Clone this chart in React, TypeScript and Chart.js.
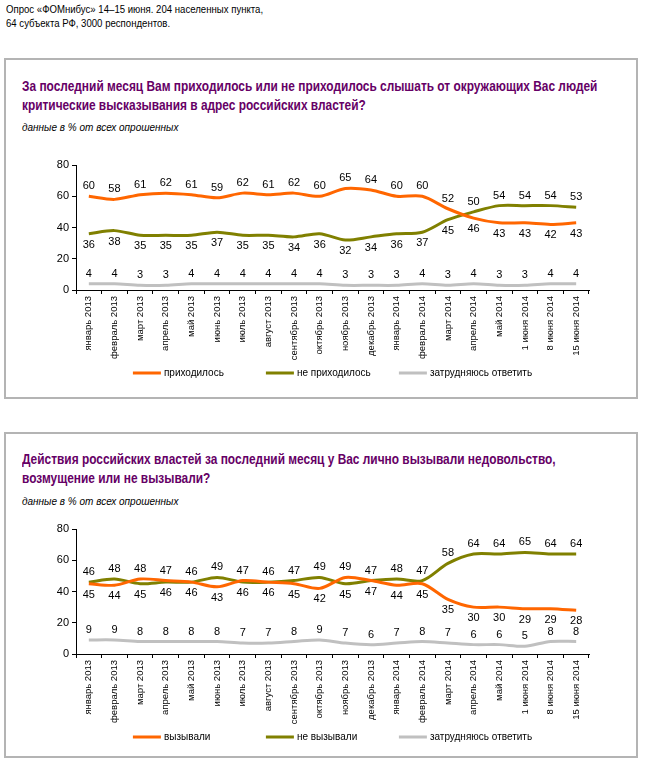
import React, { useEffect, useRef } from "react";
import { Chart, registerables } from "chart.js";

Chart.register(...registerables);

const categories = [
  "январь 2013", "февраль 2013", "март 2013", "апрель 2013", "май 2013", "июнь 2013",
  "июль 2013", "август 2013", "сентябрь 2013", "октябрь 2013", "ноябрь 2013", "декабрь 2013",
  "январь 2014", "февраль 2014", "март 2014", "апрель 2014", "май 2014",
  "1 июня 2014", "8 июня 2014", "15 июня 2014",
];

// Chart 1: heard criticism
const heardYes = [60, 58, 61, 62, 61, 59, 62, 61, 62, 60, 65, 64, 60, 60, 52, 46, 43, 43, 42, 43];
const heardNo = [36, 38, 35, 35, 35, 37, 35, 35, 34, 36, 32, 34, 36, 37, 45, 50, 54, 54, 54, 53];
const heardHard = [4, 4, 3, 3, 4, 4, 4, 4, 4, 4, 3, 3, 3, 4, 3, 4, 3, 3, 4, 4];

// Chart 2: actions caused discontent
const causedYes = [45, 44, 48, 47, 46, 43, 47, 46, 45, 42, 49, 47, 44, 45, 35, 30, 30, 29, 29, 28];
const causedNo = [46, 48, 45, 46, 46, 49, 46, 46, 47, 49, 45, 47, 48, 47, 58, 64, 64, 65, 64, 64];
const causedHard = [9, 9, 8, 8, 8, 8, 7, 7, 8, 9, 7, 6, 7, 8, 7, 6, 6, 5, 8, 8];

const yTicks = [0, 20, 40, 60, 80];

const names1 = ["приходилось", "не приходилось", "затрудняюсь ответить"];
const names2 = ["вызывали", "не вызывали", "затрудняюсь ответить"];
const colors = ["#FF6600", "#808000", "#C0C0C0"];

const FONT = "'Liberation Sans', Arial, sans-serif";

const labelPlugin = {
  id: "valueLabels",
  afterDatasetsDraw(chart: any) {
    const ctx = chart.ctx;
    ctx.save();
    ctx.font = `11px ${FONT}`;
    ctx.fillStyle = "#000";
    ctx.textAlign = "center";
    ctx.textBaseline = "middle";
    chart.data.datasets.forEach((ds: any, i: number) => {
      const meta = chart.getDatasetMeta(i);
      meta.data.forEach((pt: any, j: number) => {
        const v = ds.data[j];
        let above = true;
        if (i === 0 || i === 1) {
          const other = chart.data.datasets[1 - i].data[j];
          if (v > other) above = true;
          else if (v < other) above = false;
          else above = i === 1;
        }
        const y = above ? pt.y - 10 : pt.y + 11;
        ctx.fillText(String(v), pt.x, y);
      });
    });
    ctx.restore();
  },
};

// Legend drawn on the canvas below the rotated category labels
const legendPlugin = {
  id: "lineLegend",
  afterDraw(chart: any) {
    const ctx = chart.ctx;
    const { left, right, bottom } = chart.chartArea;
    ctx.save();
    ctx.font = `10px ${FONT}`;
    const sw = 28;
    const gap = 3;
    const slot = 133;
    const dsets = chart.data.datasets;
    const lastW = sw + gap + ctx.measureText(dsets[dsets.length - 1].label).width;
    const total = slot * (dsets.length - 1) + lastW;
    let x = (left + right) / 2 - total / 2;
    const y = bottom + 83;
    dsets.forEach((ds: any) => {
      ctx.fillStyle = ds.borderColor;
      ctx.fillRect(x, y - 1.5, sw, 3);
      ctx.fillStyle = "#000";
      ctx.textAlign = "left";
      ctx.textBaseline = "middle";
      ctx.fillText(ds.label, x + sw + gap, y);
      x += slot;
    });
    ctx.restore();
  },
};

function makeConfig(series: number[][], names: string[]): any {
  return {
    type: "line",
    data: {
      labels: categories,
      datasets: series.map((s, i) => ({
        label: names[i],
        data: s,
        borderColor: colors[i],
        backgroundColor: colors[i],
        borderWidth: 3,
        pointRadius: 0,
        pointHoverRadius: 0,
        tension: 0.3,
        fill: false,
      })),
    },
    options: {
      animation: false,
      responsive: false,
      maintainAspectRatio: false,
      events: [],
      layout: { padding: { left: 0, right: 46, top: 25, bottom: 28 } },
      plugins: {
        legend: { display: false },
        tooltip: { enabled: false },
      },
      scales: {
        x: {
          offset: true,
          grid: { offset: true, drawOnChartArea: false, drawTicks: true, tickLength: 4, color: "#000" },
          border: { color: "#000", width: 1 },
          ticks: {
            maxRotation: 90,
            minRotation: 90,
            autoSkip: false,
            color: "#000",
            font: { family: FONT, size: 9.5 },
            padding: 2,
          },
          afterFit: (s: any) => {
            s.height = 70;
          },
        },
        y: {
          min: 0,
          max: 80,
          afterBuildTicks: (s: any) => {
            s.ticks = yTicks.map((v) => ({ value: v }));
          },
          ticks: { color: "#000", font: { family: FONT, size: 11 }, padding: 3 },
          grid: { drawOnChartArea: false, drawTicks: true, tickLength: 4, color: "#000" },
          border: { color: "#000", width: 1 },
          afterFit: (s: any) => {
            s.width = 71;
          },
        },
      },
    },
    plugins: [labelPlugin, legendPlugin],
  };
}

function LineChart({ series, names, top }: { series: number[][]; names: string[]; top: number }) {
  const ref = useRef<HTMLCanvasElement | null>(null);
  useEffect(() => {
    if (!ref.current) return;
    const chart = new Chart(ref.current, makeConfig(series, names));
    return () => chart.destroy();
  }, []);
  return (
    <canvas
      ref={ref}
      width={630}
      height={248}
      style={{ position: "absolute", left: 5, top, width: 630, height: 248 }}
    />
  );
}

const titleStyle: React.CSSProperties = {
  position: "absolute",
  left: 22,
  margin: 0,
  fontFamily: FONT,
  fontSize: 14,
  fontWeight: "bold",
  lineHeight: "19px",
  color: "#660066",
  whiteSpace: "nowrap",
  transform: "scaleX(0.85)",
  transformOrigin: "0 0",
};

const noteStyle: React.CSSProperties = {
  position: "absolute",
  left: 22,
  fontFamily: FONT,
  fontSize: 10,
  fontStyle: "italic",
  lineHeight: "14px",
  color: "#000",
  whiteSpace: "nowrap",
};

const boxStyle: React.CSSProperties = {
  position: "absolute",
  left: 4,
  width: 634,
  border: "2px solid #b4b4b4",
  boxSizing: "border-box",
};

export default function App() {
  return (
    <div
      style={{
        position: "absolute",
        left: 0,
        top: 0,
        width: 645,
        height: 780,
        background: "#fff",
        overflow: "hidden",
      }}
    >
      <div
        style={{
          position: "absolute",
          left: 6,
          top: 3,
          fontFamily: FONT,
          fontSize: 10,
          lineHeight: "14px",
          color: "#000",
          whiteSpace: "nowrap",
          transform: "scaleX(0.96)",
          transformOrigin: "0 0",
        }}
      >
        Опрос «ФОМнибус» 14–15 июня. 204 населенных пункта,
        <br />
        64 субъекта РФ, 3000 респондентов.
      </div>

      <div style={{ ...boxStyle, top: 58, height: 341 }} />
      <div style={{ ...titleStyle, top: 77 }}>
        За последний месяц Вам приходилось или не приходилось слышать от окружающих Вас людей
        <br />
        критические высказывания в адрес российских властей?
      </div>
      <div style={{ ...noteStyle, top: 121 }}>данные в % от всех опрошенных</div>
      <LineChart series={[heardYes, heardNo, heardHard]} names={names1} top={140} />

      <div style={{ ...boxStyle, top: 432, height: 326 }} />
      <div style={{ ...titleStyle, top: 450 }}>
        Действия российских властей за последний месяц у Вас лично вызывали недовольство,
        <br />
        возмущение или не вызывали?
      </div>
      <div style={{ ...noteStyle, top: 495 }}>данные в % от всех опрошенных</div>
      <LineChart series={[causedYes, causedNo, causedHard]} names={names2} top={504} />
    </div>
  );
}
